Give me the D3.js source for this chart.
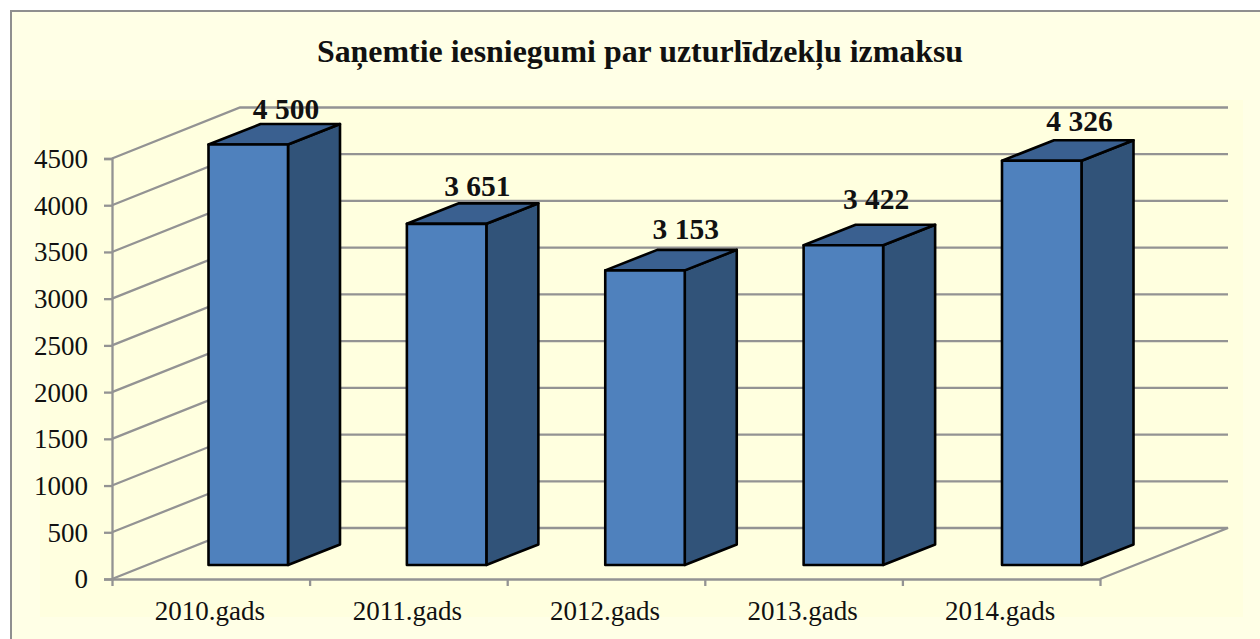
<!DOCTYPE html>
<html><head><meta charset="utf-8">
<script src="https://cdn.jsdelivr.net/npm/d3@7"></script>
<style>html,body{margin:0;padding:0;background:#fff;overflow:hidden}svg{display:block}
text{font-family:"Liberation Serif",serif;fill:#111}</style></head>
<body><svg id="c" width="1260" height="639"></svg>
<script>
const categories=["2010.gads","2011.gads","2012.gads","2013.gads","2014.gads"];
const values=[4500,3651,3153,3422,4326];
const valueLabels=["4 500","3 651","3 153","3 422","4 326"];
const tickValues=[0,500,1000,1500,2000,2500,3000,3500,4000,4500];
const titleText="Saņemtie iesniegumi par uzturlīdzekļu izmaksu";
const labelDx=[-2,-9,1,-7,-2],labelDy=[-26,-28,-31,-36,-30];

const svg=d3.select("#c");
const axisX0=112,axisX1=1100,y0=579,y45=158.5;
const depthX=128,depthY=51;
const barDepthX=52,barDepthY=20.5,barShiftY=14,barWidth=79.5;
const x=d3.scaleBand().domain(categories).range([axisX0,axisX1]);
const barX=d3.scalePoint().domain(categories).range([208.5,1002]);
const y=d3.scaleLinear().domain([0,4500]).range([y0,y45]);
const grey="#939393";

svg.append("rect").attr("x",0).attr("y",0).attr("width",1260).attr("height",639).attr("fill","#fff");
svg.append("rect").attr("x",11).attr("y",11).attr("width",1260).attr("height",640).attr("fill","#ffffe6").attr("stroke","#8f8f8f").attr("stroke-width",2);
svg.append("rect").attr("x",40).attr("y",100).attr("width",1203).attr("height",517).attr("fill","#ffffdf");

svg.append("text").attr("x",640).attr("y",62).attr("text-anchor","middle").attr("font-size",31.9).attr("font-weight",700).attr("fill","#000").text(titleText);

const gGrid=svg.append("g").attr("fill","none").attr("stroke",grey).attr("stroke-width",2.3);
gGrid.selectAll("path.g").data(tickValues).join("path").attr("class","g")
 .attr("d",v=>v===0
   ?`M${axisX0},${y(v)}L${axisX0+depthX},${y(v)-depthY}L${axisX1+depthX},${y(v)-depthY}L${axisX1},${y(v)}`
   :`M${axisX0},${y(v)}L${axisX0+depthX},${y(v)-depthY}L${axisX1+depthX},${y(v)-depthY}`);

const yAxis=d3.axisLeft(y).tickValues(tickValues).tickSize(8).tickPadding(16).tickFormat(d3.format("d"));
const gy=svg.append("g").attr("transform",`translate(${axisX0},0)`).call(yAxis);
const xTicks=d3.scalePoint().domain(d3.range(6)).range([axisX0,axisX1]);
const xAxis=d3.axisBottom(xTicks).tickSize(7).tickFormat("");
const gx=svg.append("g").attr("transform",`translate(0,${y0})`).call(xAxis);
[gy,gx].forEach(g=>{g.selectAll("path").attr("stroke",grey).attr("stroke-width",2.3);g.selectAll("line").attr("stroke",grey).attr("stroke-width",2.3);});
gy.selectAll("text").attr("font-size",27).attr("font-family","Liberation Serif").attr("fill","#111").attr("dy","0.33em");
gx.select(".domain").attr("d",`M${axisX0},0.5H${axisX1}`);

svg.append("g").selectAll("text").data(categories).join("text")
 .attr("x",d=>x(d)+x.bandwidth()/2-1).attr("y",620).attr("text-anchor","middle").attr("font-size",27).text(d=>d);

const bars=svg.append("g").attr("stroke","#000").attr("stroke-width",2.6).attr("stroke-linejoin","round");
categories.forEach((c,i)=>{
 const l=barX(c),r=l+barWidth,b=y(0)-barShiftY,t=y(values[i])-barShiftY;
 const g=bars.append("g");
 g.append("path").attr("fill","#315379").attr("d",`M${r},${b}L${r+barDepthX},${b-barDepthY}L${r+barDepthX},${t-barDepthY}L${r},${t}Z`);
 g.append("path").attr("fill","#3a6090").attr("d",`M${l},${t}L${l+barDepthX},${t-barDepthY}L${r+barDepthX},${t-barDepthY}L${r},${t}Z`);
 g.append("rect").attr("fill","#4f81bd").attr("x",l).attr("y",t).attr("width",r-l).attr("height",b-t);
});

svg.append("g").selectAll("text").data(values).join("text")
 .attr("x",(d,i)=>barX(categories[i])+barWidth+labelDx[i])
 .attr("y",(d,i)=>y(d)-barShiftY+labelDy[i])
 .attr("text-anchor","middle").attr("font-size",29.5).attr("font-weight",700).attr("fill","#000")
 .text((d,i)=>valueLabels[i]);
</script></body></html>
